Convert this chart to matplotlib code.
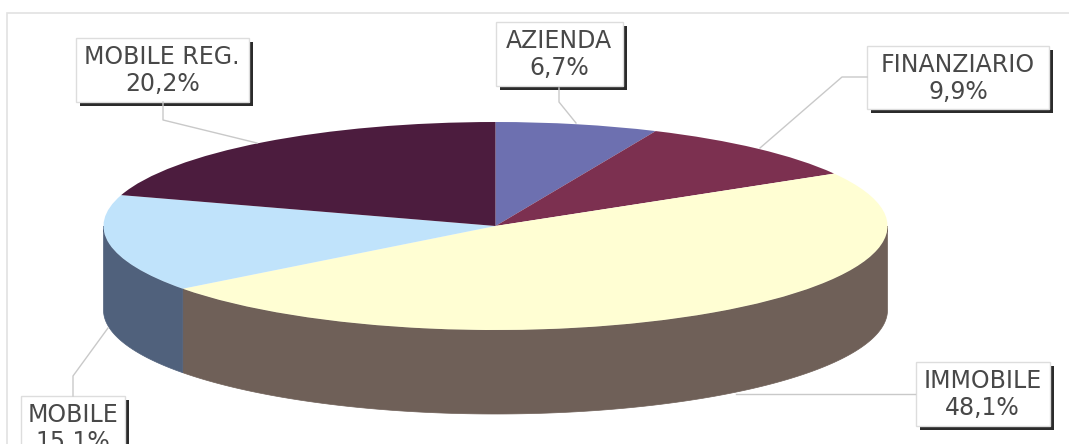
import numpy as np
import matplotlib
matplotlib.use("Agg")
import matplotlib.pyplot as plt
from matplotlib.patches import Rectangle

# ---- data ----
categories = ["AZIENDA", "FINANZIARIO", "IMMOBILE", "MOBILE", "MOBILE REG."]
values = [6.7, 9.9, 48.1, 15.1, 20.2]
value_labels = ["6,7%", "9,9%", "48,1%", "15,1%", "20,2%"]

# ---- styles ----
top_colors = ["#6d70b0", "#7c3050", "#fffed3", "#c0e3fb", "#4c1c3e"]
side_colors = ["#45467a", "#4f1f33", "#6f6058", "#50617c", "#301228"]
W, H = 1069, 444
cx, cy, rx, ry, depth = 495.5, 226, 392, 104, 84

# ---- layout, pixels: box (x0, y0, x1, y1) and leader path ----
boxes = [(495.5, 22, 623, 86), (867, 46, 1049, 109), (915.5, 362, 1050, 426),
         (21, 396, 124.5, 470), (76, 38, 248.5, 102)]
leaders = [[(559, 88), (559, 102), (576, 123)],
           [(867, 77), (842, 77), (760, 148)],
           [(915, 394), (736, 394)],
           [(73, 396), (73, 376), (108, 328)],
           [(163, 102), (163, 120), (257, 143)]]

fig = plt.figure(figsize=(W / 100, H / 100), dpi=100, facecolor="white")
ax = fig.add_axes([0, 0, 1, 1], zorder=0)
ax.set_xlim(0, W)
ax.set_ylim(H, 0)
ax.axis("off")

# outer frame
ax.plot([7, 7, W + 5], [H + 5, 13, 13], color="#e2e2e2", lw=1.2, solid_joinstyle="miter")

# side wall, front half only
edges = np.concatenate([[0], np.cumsum(values)]) / np.sum(values) * 2 * np.pi
for a0, a1, col in zip(edges[:-1], edges[1:], side_colors):
    lo, hi = max(a0, np.pi / 2), min(a1, 3 * np.pi / 2)
    if hi <= lo:
        continue
    t = np.linspace(lo, hi, 200)
    x = cx + rx * np.sin(t)
    y = cy - ry * np.cos(t)
    ax.fill(np.r_[x, x[::-1]], np.r_[y, y[::-1] + depth], color=col, lw=0.5)

# top face
pie_ax = fig.add_axes([(cx - rx) / W, 1 - (cy + ry) / H, 2 * rx / W, 2 * ry / H], zorder=1)
pie_ax.pie(values, colors=top_colors, startangle=90, counterclock=False, radius=1,
           wedgeprops=dict(linewidth=0.4, edgecolor="none"))
pie_ax.set_aspect("auto")
pie_ax.set_xlim(-1, 1)
pie_ax.set_ylim(-1, 1)

# labels
lab = fig.add_axes([0, 0, 1, 1], zorder=2)
lab.set_xlim(0, W)
lab.set_ylim(H, 0)
lab.axis("off")
for name, val, b, path in zip(categories, value_labels, boxes, leaders):
    px, py = zip(*path)
    lab.plot(px, py, color="#c9c9c9", lw=1.0)
    x0, y0, x1, y1 = b
    lab.add_patch(Rectangle((x0 + 4, y0 + 4), x1 - x0, y1 - y0, fc="#2b2b2b", ec="none"))
    lab.add_patch(Rectangle((x0, y0), x1 - x0, y1 - y0, fc="white", ec="#dddddd", lw=1.0))
    xc = (x0 + x1) / 2
    lab.text(xc, y0 + 19, name, ha="center", va="center", fontsize=17,
             color="#484848", family="DejaVu Sans")
    lab.text(xc, y0 + 46, val, ha="center", va="center", fontsize=17,
             color="#484848", family="DejaVu Sans")

fig.savefig("out.png", dpi=100)
